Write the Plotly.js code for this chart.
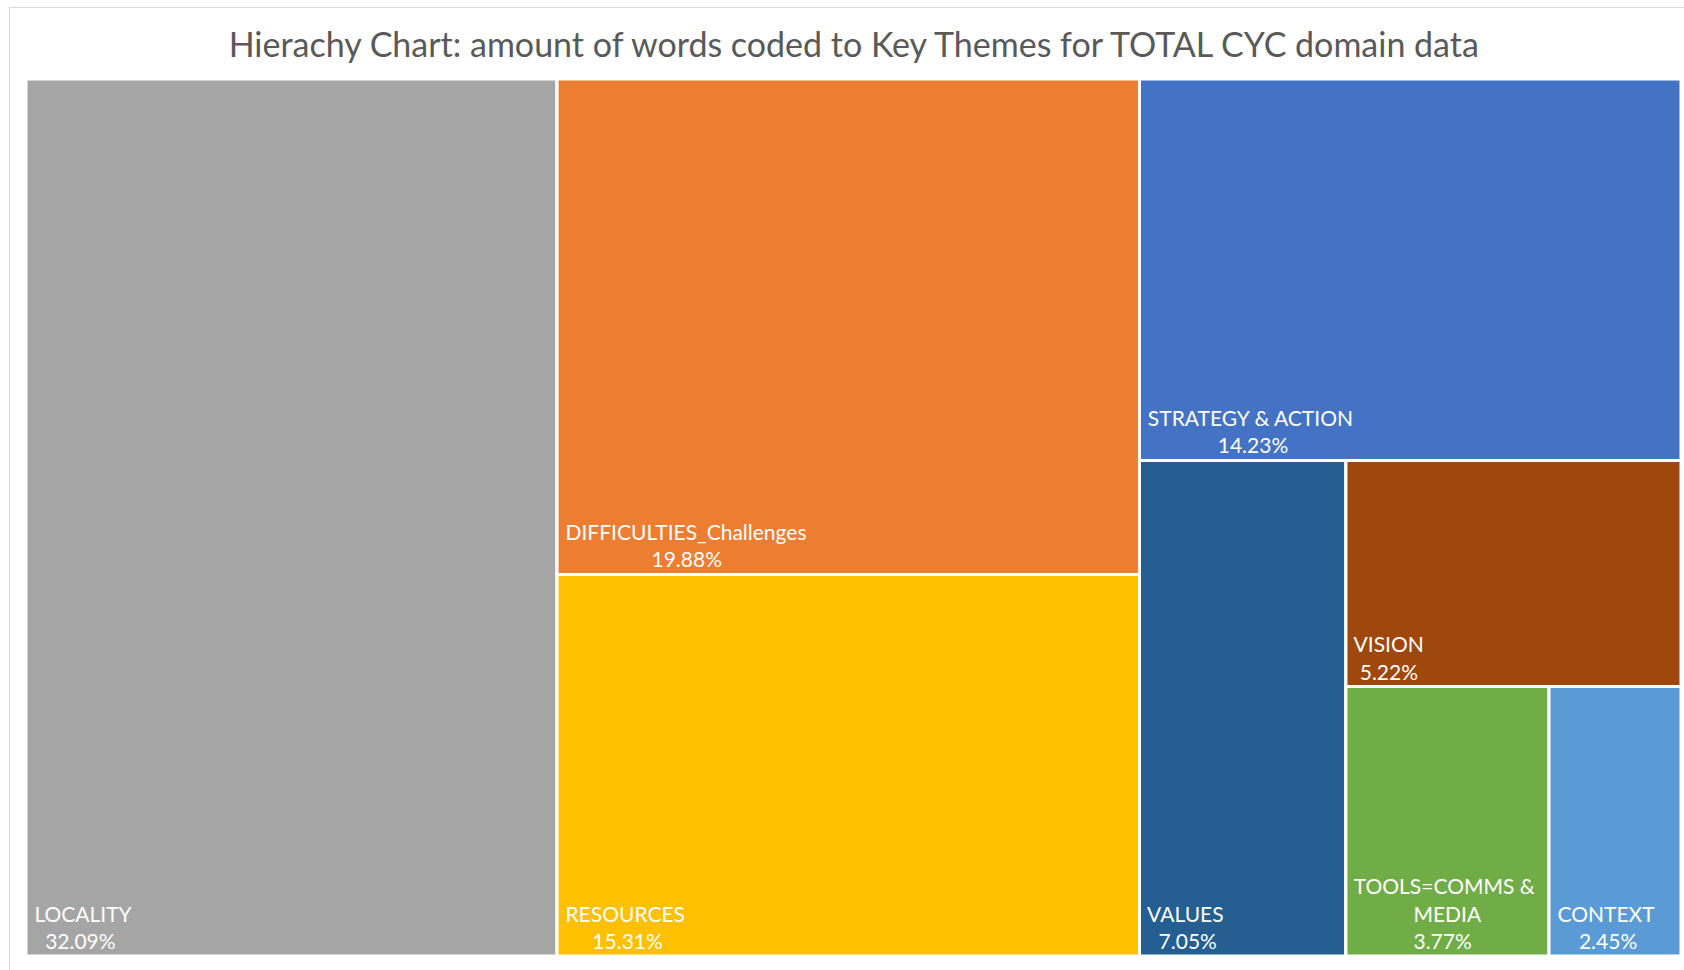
<!DOCTYPE html>
<html>
<head>
<meta charset="utf-8">
<script src="https://cdn.plot.ly/plotly-3.0.1.min.js"></script>
<style>
  html, body { margin: 0; padding: 0; background: #ffffff; }
  #frame { position: absolute; left: 9px; top: 7px; width: 1700px; height: 1000px; border: 1px solid #d9d9d9; box-sizing: border-box; }
  #chart { position: absolute; left: 0; top: 0; width: 1684px; height: 970px; }
</style>
</head>
<body>
<div id="frame"></div>
<div id="chart"></div>
<script>
// Themes and their share (%) of words coded
const themes = ["LOCALITY", "DIFFICULTIES_Challenges", "RESOURCES", "STRATEGY & ACTION",
                "VALUES", "VISION", "TOOLS=COMMS & MEDIA", "CONTEXT"];
const shares = [32.09, 19.88, 15.31, 14.23, 7.05, 5.22, 3.77, 2.45];
const themeColors = ["#A5A5A5", "#ED7D31", "#FFC000", "#4472C4",
                     "#255E91", "#9E480E", "#70AD47", "#5B9BD5"];
// Grouping used only to reproduce the column layout of the original chart
const groupIds = ["root", "G1", "G2", "G3", "G4", "G5"];
const groupParents = ["", "root", "root", "G2", "G3", "G4"];
const themeParents = ["root", "G1", "G1", "G2", "G3", "G4", "G5", "G5"];

const FONT = "Lato";
const FS = 21;

// wrap the long label like the original
const labelLines = themes.map(t => t === "TOOLS=COMMS & MEDIA" ? ["TOOLS=COMMS &", "MEDIA"] : [t]);

// centre each line of a label block under the widest line
const ctx = document.createElement("canvas").getContext("2d");
ctx.font = FS + "px " + FONT;
const NB = "\u00A0";
const nbW = ctx.measureText(NB).width || FS * 0.2;
function blockText(lines) {
  const w = lines.map(l => ctx.measureText(l).width);
  const maxW = Math.max.apply(null, w);
  return lines.map((l, i) => NB + NB.repeat(Math.max(0, Math.round((maxW - w[i]) / 2 / nbW))) + l).join("<br>");
}

const order = [
  {k: "g", i: 0},
  {k: "t", i: 0},
  {k: "g", i: 1}, {k: "t", i: 1}, {k: "t", i: 2},
  {k: "g", i: 2}, {k: "t", i: 3},
  {k: "g", i: 3}, {k: "t", i: 4},
  {k: "g", i: 4}, {k: "t", i: 5},
  {k: "g", i: 5}, {k: "t", i: 6}, {k: "t", i: 7}
];
const ids = [], labels = [], parents = [], values = [], colors = [], texts = [], templates = [];
order.forEach(o => {
  if (o.k === "g") {
    ids.push(groupIds[o.i]); labels.push(""); parents.push(groupParents[o.i]);
    values.push(0); colors.push("#ffffff"); texts.push(""); templates.push("");
  } else {
    ids.push(themes[o.i]); labels.push(themes[o.i]); parents.push(themeParents[o.i]);
    values.push(shares[o.i]); colors.push(themeColors[o.i]);
    texts.push(blockText(labelLines[o.i].concat([shares[o.i].toFixed(2) + "%"])));
    templates.push("%{text}");
  }
});

const trace = {
  type: "treemap",
  ids: ids, labels: labels, parents: parents, values: values, text: texts,
  branchvalues: "remainder",
  sort: false,
  texttemplate: templates,
  textposition: "bottom left",
  hoverinfo: "label+value",
  textfont: {family: FONT + ", 'Open Sans', sans-serif", size: FS, color: "#ffffff"},
  marker: {colors: colors, line: {color: "#ffffff", width: 3}, pad: {t: 0, l: 0, r: 0, b: 0}, depthfade: false},
  tiling: {packing: "slice-dice", pad: 0},
  pathbar: {visible: false},
  root: {color: "#ffffff"}
};

const layout = {
  width: 1684, height: 970,
  paper_bgcolor: "rgba(0,0,0,0)",
  margin: {l: 26, r: 3, t: 79, b: 14},
  title: {
    text: "Hierachy Chart: amount of words coded to Key Themes for TOTAL CYC domain data",
    font: {family: FONT + ", 'Open Sans', sans-serif", size: 34, color: "#595959"},
    x: 0.507, xanchor: "center", y: 0.954, yref: "container", yanchor: "middle"
  }
};

Plotly.newPlot("chart", [trace], layout, {displayModeBar: false});
</script>
</body>
</html>
